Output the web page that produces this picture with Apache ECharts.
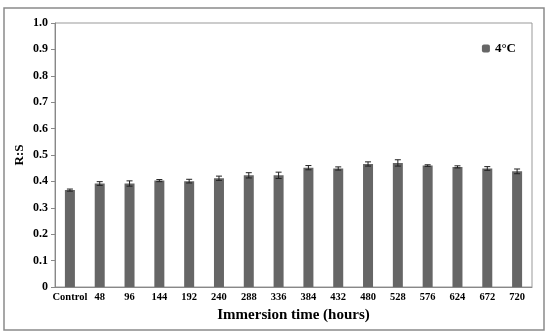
<!DOCTYPE html>
<html>
<head>
<meta charset="utf-8">
<script src="https://cdn.jsdelivr.net/npm/echarts@6/dist/echarts.min.js"></script>
<style>html,body{margin:0;padding:0;background:#fff}#c{width:550px;height:335px}</style>
</head>
<body>
<div id="c"></div>
<script>
var categories = ['Control','48','96','144','192','240','288','336','384','432','480','528','576','624','672','720'];
var values = [0.367,0.392,0.392,0.403,0.401,0.412,0.423,0.423,0.452,0.449,0.466,0.470,0.460,0.455,0.449,0.438];
var errors = [0.004,0.007,0.010,0.004,0.007,0.008,0.010,0.012,0.008,0.006,0.008,0.012,0.003,0.004,0.007,0.009];
var yTicks = [0,0.1,0.2,0.3,0.4,0.5,0.6,0.7,0.8,0.9,1.0];
var seriesName = '4°C';

var font = '"Liberation Serif", "Times New Roman", serif';
var errData = categories.map(function(c,i){return [i, values[i]-errors[i], values[i]+errors[i]];});

var chart = echarts.init(document.getElementById('c'));
chart.setOption({
  animation:false,
  backgroundColor:'#fff',
  graphic:[{type:'rect',shape:{x:4,y:8,width:540,height:322},style:{fill:'none',stroke:'#8a8a8a',lineWidth:1.5}}],
  legend:{
    data:[seriesName], right:29, top:37, itemWidth:8, itemHeight:8, itemGap:3,
    textStyle:{fontFamily:font,fontWeight:'bold',fontSize:13,color:'#000'}
  },
  grid:{left:55,right:18,top:23,bottom:48,show:true,borderColor:'#999',borderWidth:1,backgroundColor:'transparent',outerBoundsMode:'none'},
  xAxis:{
    type:'category', data:categories,
    axisLine:{lineStyle:{color:'#888',width:1}},
    axisTick:{show:false},
    axisLabel:{fontFamily:font,fontWeight:'bold',fontSize:10.5,color:'#000',margin:5,interval:0},
    name:'Immersion time (hours)', nameLocation:'middle', nameGap:21,
    nameTextStyle:{fontFamily:font,fontWeight:'bold',fontSize:15,color:'#000'}
  },
  yAxis:{
    type:'value', min:0, max:1, interval:0.1,
    axisLine:{show:true,lineStyle:{color:'#888',width:1}},
    axisTick:{show:true,length:4,lineStyle:{color:'#888'}},
    splitLine:{show:false},
    axisLabel:{fontFamily:font,fontWeight:'bold',fontSize:12,color:'#000',margin:7,
      formatter:function(v){var r=Math.round(v*10)/10; return r===0?'0':r.toFixed(1);}},
    name:'R:S', nameLocation:'middle', nameGap:29, nameRotate:90, nameMoveOverlap:false,
    nameTextStyle:{fontFamily:font,fontWeight:'bold',fontSize:13,color:'#000'}
  },
  series:[
    {name:seriesName,type:'bar',data:values,barWidth:10,itemStyle:{color:'#666666'}},
    {type:'custom',data:errData,z:10,renderItem:function(params,api){
      var x=api.value(0);
      var lo=api.coord([x,api.value(1)]);
      var hi=api.coord([x,api.value(2)]);
      var w=3;
      return {type:'group',children:[
        {type:'line',shape:{x1:lo[0],y1:lo[1],x2:hi[0],y2:hi[1]},style:{stroke:'#222',lineWidth:1}},
        {type:'line',shape:{x1:lo[0]-w,y1:lo[1],x2:lo[0]+w,y2:lo[1]},style:{stroke:'#222',lineWidth:1}},
        {type:'line',shape:{x1:hi[0]-w,y1:hi[1],x2:hi[0]+w,y2:hi[1]},style:{stroke:'#222',lineWidth:1}}
      ]};
    }}
  ]
});
</script>
</body>
</html>
